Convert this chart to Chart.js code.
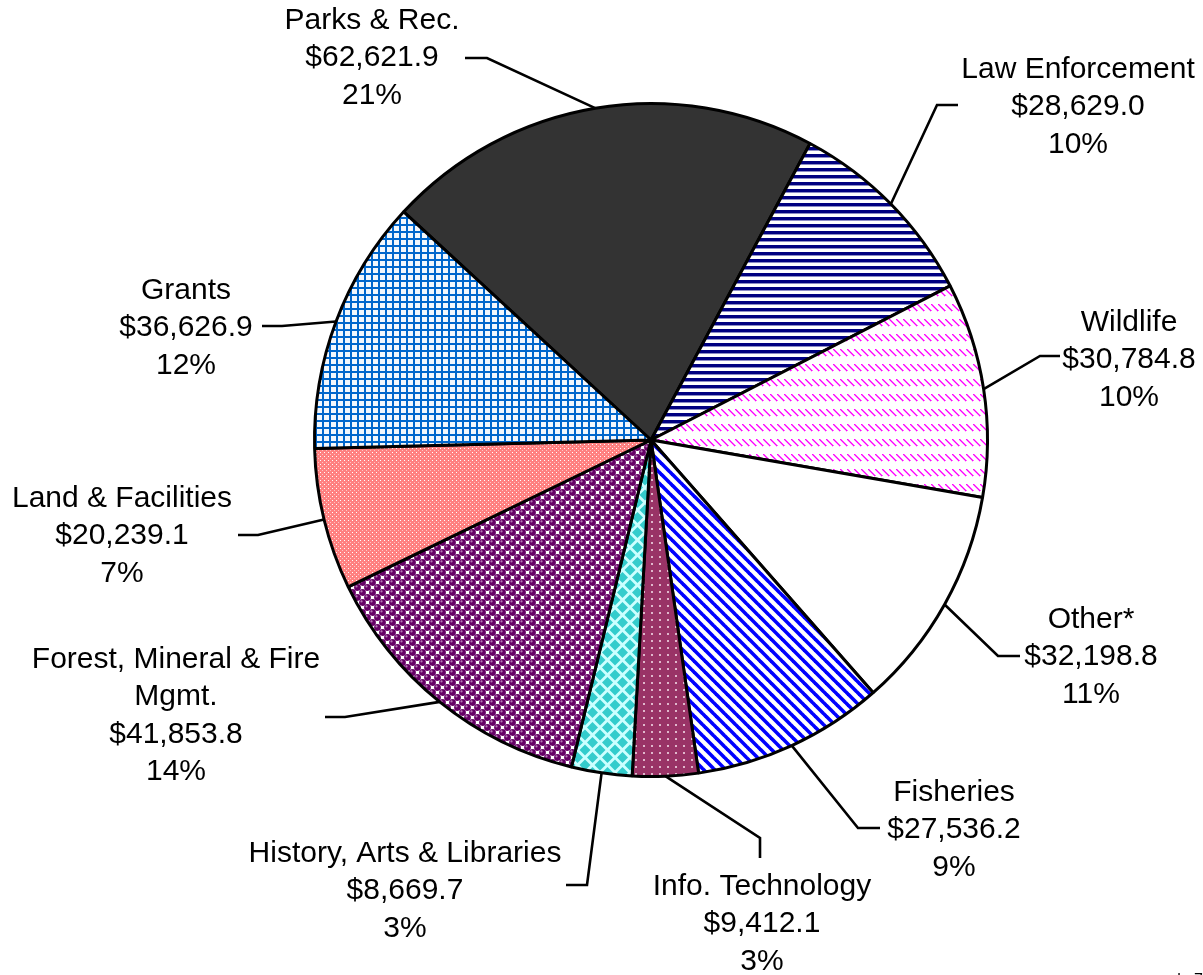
<!DOCTYPE html>
<html>
<head>
<meta charset="utf-8">
<title>Budget by program</title>
<script src="https://cdn.jsdelivr.net/npm/chart.js@4.4.1/dist/chart.umd.min.js"></script>
<style>
  html, body { margin: 0; padding: 0; background: #fff; }
  #pie { display: block; }
</style>
</head>
<body>
<canvas id="pie" width="1203" height="975"></canvas>
<script>
// slice order runs clockwise starting with Parks & Rec.
const CATEGORIES = [
  "Parks & Rec.", "Law Enforcement", "Wildlife", "Other*", "Fisheries",
  "Info. Technology", "History, Arts & Libraries", "Forest, Mineral & Fire\nMgmt.",
  "Land & Facilities", "Grants"
];
const VALUES = [
  62621.9, 28629.0, 30784.8, 32198.8, 27536.2,
  9412.1, 8669.7, 41853.8, 20239.1, 36626.9
];

// where each label block sits and how its leader line bends
const LABEL_LAYOUT = [
  { cx: 372,  top: 29,  elbow: [487, 58],  end: [465, 58] },
  { cx: 1078, top: 78,  elbow: [937, 105], end: [958, 105] },
  { cx: 1129, top: 331, elbow: [1040, 356], end: [1060, 356] },
  { cx: 1091, top: 628, elbow: [998, 656], end: [1020, 656] },
  { cx: 954,  top: 801, elbow: [858, 828], end: [880, 828] },
  { cx: 762,  top: 895, elbow: [760, 838], end: [760, 858] },
  { cx: 405,  top: 862, elbow: [587, 885], end: [566, 885] },
  { cx: 176,  top: 668, elbow: [345, 717], end: [325, 717] },
  { cx: 122,  top: 507, elbow: [258, 535], end: [238, 535] },
  { cx: 186,  top: 299, elbow: [282, 326], end: [262, 326] }
];

const FONT = '30px "Liberation Sans", Arial, sans-serif';
const LINE_H = 37.3;

const canvas = document.getElementById("pie");
const ctx = canvas.getContext("2d");

function makePattern(w, h, draw) {
  const c = document.createElement("canvas");
  c.width = w;
  c.height = h;
  const g = c.getContext("2d");
  draw(g, w, h);
  return ctx.createPattern(c, "repeat");
}

function dot(g, x, y, r, color) {
  g.fillStyle = color;
  g.beginPath();
  g.arc(x, y, r, 0, Math.PI * 2);
  g.fill();
}

const FILLS = [
  "#333333",
  // navy horizontal lines
  makePattern(7, 7, (g) => {
    g.fillStyle = "#fff"; g.fillRect(0, 0, 7, 7);
    g.fillStyle = "#000080"; g.fillRect(0, 0, 7, 3);
    g.fillStyle = "#8c8cc6"; g.fillRect(0, 3, 7, 1);
  }),
  // pink dashed diagonals
  makePattern(7, 15, (g) => {
    g.fillStyle = "#fff"; g.fillRect(0, 0, 7, 15);
    for (let i = 0; i < 7; i++) {
      g.fillStyle = "#ff00ff"; g.fillRect(i, 4 + i, 1, 1);
      g.fillStyle = "#ff66ff"; g.fillRect((i + 1) % 7, 4 + i, 1, 1);
      g.fillStyle = "#ffb3ff"; g.fillRect(i, 5 + i, 1, 1);
    }
  }),
  "#ffffff",
  // blue wide diagonals
  makePattern(11, 11, (g) => {
    g.fillStyle = "#fff"; g.fillRect(0, 0, 11, 11);
    g.strokeStyle = "#0000ff"; g.lineWidth = 3.6;
    for (const k of [-11, 0, 11]) {
      g.beginPath(); g.moveTo(k - 1, -1); g.lineTo(k + 12, 12); g.stroke();
    }
  }),
  // maroon with small dots
  makePattern(8, 7, (g) => {
    g.fillStyle = "#993366"; g.fillRect(0, 0, 8, 7);
    g.fillStyle = "#e0b8cc"; g.fillRect(3, 3, 2, 2);
  }),
  // turquoise diamonds
  makePattern(15, 15, (g) => {
    g.fillStyle = "#ccffff"; g.fillRect(0, 0, 15, 15);
    g.fillStyle = "#33cccc";
    const r = 5.5;
    for (const [x, y] of [[0, 0], [15, 0], [0, 15], [15, 15], [7.5, 7.5]]) {
      g.beginPath();
      g.moveTo(x, y - r); g.lineTo(x + r, y); g.lineTo(x, y + r); g.lineTo(x - r, y);
      g.closePath(); g.fill();
    }
  }),
  // purple spheres
  makePattern(10, 10, (g) => {
    g.fillStyle = "#fff"; g.fillRect(0, 0, 10, 10);
    for (const [x, y] of [[2.5, 2.5], [7.5, 7.5], [-2.5, 7.5], [7.5, -2.5], [-2.5, -2.5],
                          [12.5, 7.5], [7.5, 12.5], [12.5, 12.5], [2.5, 12.5], [12.5, 2.5]]) {
      dot(g, x, y, 3.4, "#660066");
      dot(g, x - 1, y - 1.1, 1.1, "#b57ab5");
    }
  }),
  // salmon lattice
  makePattern(4, 4, (g) => {
    g.fillStyle = "#ff8080"; g.fillRect(0, 0, 4, 4);
    g.fillStyle = "#ffffff"; g.fillRect(0, 0, 1, 1);
    g.fillStyle = "#ffc4c4"; g.fillRect(2, 2, 1, 1);
  }),
  // blue grid
  makePattern(7, 7, (g) => {
    g.fillStyle = "#f2f7fd"; g.fillRect(0, 0, 7, 7);
    g.fillStyle = "#0066cc"; g.fillRect(0, 0, 7, 2); g.fillRect(0, 0, 2, 7);
  })
];

function money(v) {
  return "$" + v.toLocaleString("en-US", { minimumFractionDigits: 1, maximumFractionDigits: 1 });
}

const sliceLabels = {
  id: "sliceLabels",
  afterDatasetsDraw(chart) {
    const c = chart.ctx;
    const total = VALUES.reduce((a, b) => a + b, 0);
    const meta = chart.getDatasetMeta(0);

    c.save();
    meta.data.forEach((arc, i) => {
      const { x, y, startAngle, endAngle, outerRadius } =
        arc.getProps(["x", "y", "startAngle", "endAngle", "outerRadius"], true);
      const mid = (startAngle + endAngle) / 2;
      const lay = LABEL_LAYOUT[i];

      c.strokeStyle = "#000";
      c.lineWidth = 2.6;
      c.beginPath();
      c.moveTo(x + Math.cos(mid) * outerRadius, y + Math.sin(mid) * outerRadius);
      c.lineTo(lay.elbow[0], lay.elbow[1]);
      c.lineTo(lay.end[0], lay.end[1]);
      c.stroke();

      const pct = Math.round(VALUES[i] / total * 100) + "%";
      const lines = CATEGORIES[i].split("\n").concat([money(VALUES[i]), pct]);
      c.fillStyle = "#000";
      c.font = FONT;
      c.textAlign = "center";
      c.textBaseline = "alphabetic";
      lines.forEach((t, k) => c.fillText(t, lay.cx, lay.top + k * LINE_H));
    });

    // note cut off at the bottom edge
    c.font = '16px "Liberation Sans", Arial, sans-serif';
    c.textAlign = "right";
    c.fillText("le 7", 1203, 985);
    c.restore();
  }
};

new Chart(ctx, {
  type: "pie",
  data: {
    labels: CATEGORIES,
    datasets: [{
      data: VALUES,
      backgroundColor: FILLS,
      borderColor: "#000",
      borderWidth: 3
    }]
  },
  options: {
    responsive: false,
    animation: false,
    rotation: -47.3,
    layout: { padding: { left: 313, right: 214, top: 102, bottom: 197 } },
    plugins: {
      legend: { display: false },
      tooltip: { enabled: false }
    }
  },
  plugins: [sliceLabels]
});
</script>
</body>
</html>
